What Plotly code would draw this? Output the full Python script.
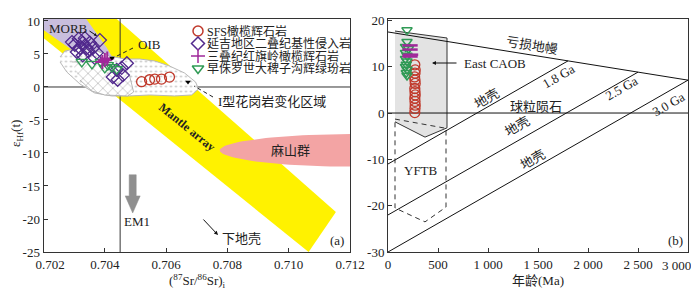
import numpy as np
import plotly.graph_objects as go

# The page places the figure 8 px from the top-left corner; all layout positions below
# are given in window pixels and converted with this offset.
OX, OY = 8, 8
WIN_W, WIN_H = 699, 301
W, H = WIN_W - OX, WIN_H - OY
SERIF = "Liberation Serif, Noto Sans CJK SC, serif"
INK = "#222222"

# ---------------- Panel (a): (87Sr/86Sr)i vs eHf(t) ----------------
sfs_sr = [0.70520, 0.70546, 0.70563, 0.70585, 0.70611]
sfs_eps = [0.8, 1.1, 1.2, 1.2, 1.5]

yanji_sr = [0.70293, 0.70315, 0.70302, 0.70328, 0.70335, 0.70351, 0.70341, 0.70361,
            0.70319, 0.70309, 0.70374, 0.70384, 0.70367, 0.70328, 0.70345, 0.70472,
            0.70455, 0.70439, 0.70459, 0.70442, 0.70426]
yanji_eps = [6.8, 7.3, 6.4, 6.7, 7.4, 6.7, 5.9, 5.9, 5.9, 5.3, 5.2, 7.1, 4.4, 4.8, 5.5,
             3.6, 2.9, 2.6, 1.8, 1.1, 1.5]

hql_sr = [0.70392, 0.70400, 0.70408]
hql_eps = [3.8, 4.1, 4.3]

dbzg_sr = [0.70325, 0.70358, 0.70387, 0.70410, 0.70423, 0.70439, 0.70400]
dbzg_eps = [3.8, 3.5, 3.8, 3.3, 3.0, 2.7, 2.9]

a_xticks = [0.702, 0.704, 0.706, 0.708, 0.710, 0.712]
a_xticktext = ["\u2007\u20070.702", "0.704", "0.706", "0.708", "0.710", "0.712"]
a_yticks = [10, 5, 0, -5, -10, -15, -20, -25]
a_yticktext = ["10", "5", "0", "-5", "-10", "-15", "-20", "-25"]

bulk_earth_sr = 0.7045

# region outlines (data units)
mantle_x = [0.70200, 0.70200, 0.70422, 0.71154, 0.71065]
mantle_y = [7.42, 11.0, 11.0, -18.94, -25.0]
morb_x = [0.70200, 0.70335, 0.70377, 0.70407, 0.70426, 0.70403, 0.70358, 0.70293, 0.70200]
morb_y = [10.6, 10.6, 7.88, 5.91, 4.39, 3.64, 3.79, 5.61, 8.64]
blob_x = [0.70254, 0.70270, 0.70319, 0.70374, 0.70416, 0.70465, 0.70514, 0.70563, 0.70611,
          0.70660, 0.70696, 0.70706, 0.70683, 0.70628, 0.70546, 0.70481, 0.70423, 0.70367,
          0.70319, 0.70276, 0.70254]
blob_y = [4.55, 5.45, 5.91, 5.45, 4.70, 4.24, 4.24, 3.94, 3.18, 2.12, 0.76, -0.30, -1.21,
          -1.36, -1.21, -1.36, -1.36, -0.91, 0.45, 2.27, 3.79]
hatch_x = [0.70293, 0.70384, 0.70442, 0.70481, 0.70494, 0.70475, 0.70400, 0.70358, 0.70319]
hatch_y = [3.79, 3.79, 3.18, 1.67, -0.76, -1.36, -1.21, -0.61, 1.06]
mashan_center = (0.71230, -9.6)
mashan_axes = (0.00455, 2.5)

# ---------------- Panel (b): age vs eHf(t) ----------------
sfs_age = [268, 272, 270, 266, 270, 272, 268, 270, 272, 268, 270, 272, 270, 268]
sfs_ehf = [10.4, 9.3, 8.6, 7.8, 7.1, 6.4, 5.3, 4.6, 3.9, 3.2, 2.5, 1.7, 1.0, 0.1]
dbzg_age = [190, 190, 175, 205, 175, 190, 175, 190, 183, 175, 190, 183, 190]
dbzg_ehf = [17.9, 15.4, 14.3, 13.9, 13.0, 12.4, 11.7, 11.2, 10.5, 10.0, 9.4, 8.7, 8.1]
hql_age = [220, 220, 225, 220]
hql_ehf = [14.6, 13.7, 12.6, 12.2]

dm_age = [0, 3000]
dm_ehf = [17.5, 7.1]
chur_age = [0, 3000]
chur_ehf = [0, 0]
crust_ages = {"1.8": ([0, 1800], [-11.0, 11.26]),
              "2.5": ([0, 2500], [-22.0, 8.83]),
              "3.0": ([0, 3000], [-30.0, 7.1])}
caob_age = [70, 590, 590, 370, 70]
caob_ehf = [17.7, 16.2, -3.2, -5.2, -1.9]
yftb_age = [70, 580, 580, 370, 70, 70]
yftb_ehf = [-1.3, -3.3, -20.3, -23.5, -20.5, -1.3]

b_xticks = [0, 500, 1000, 1500, 2000, 2500, 3000]
b_xticktext = ["0", "500", "1 000", "1 500", "2 000", "2 500", ""]
b_last_label = "3 000"
b_yticks = [20, 10, 0, -10, -20, -30]
b_yticktext = ["20", "10", "0", "-10", "-20", "-30"]

C_RED = "#c0392b"
C_PUR = "#50288c"
C_MAG = "#a0289a"
C_GRN = "#2f9a55"

fig = go.Figure()


def poly(x, y, fill, line, lw=1, xa="x", ya="y", pattern=None, dash=None):
    fig.add_trace(go.Scatter(x=x, y=y, mode="lines", fill="toself", fillcolor=fill,
                             line=dict(color=line, width=lw, dash=dash),
                             fillpattern=pattern, hoverinfo="skip", showlegend=False,
                             xaxis=xa, yaxis=ya))


# ---- panel a regions
poly(mantle_x, mantle_y, "#fff200", "rgba(0,0,0,0)", 0)
poly(morb_x, morb_y, "#c9bedd", "rgba(0,0,0,0)", 0)
t = np.linspace(0, 2 * np.pi, 121)
poly(list(mashan_center[0] + mashan_axes[0] * np.cos(t)),
     list(mashan_center[1] + mashan_axes[1] * np.sin(t)), "#f3a4a4", "rgba(0,0,0,0)", 0)
# reference lines
fig.add_trace(go.Scatter(x=[bulk_earth_sr, bulk_earth_sr], y=[-26, 12], mode="lines",
                         line=dict(color="#333", width=1), hoverinfo="skip", showlegend=False))
fig.add_trace(go.Scatter(x=[0.701, 0.713], y=[0, 0], mode="lines",
                         line=dict(color="#333", width=1), hoverinfo="skip", showlegend=False))
poly(blob_x, blob_y, "white", "#b8b8b8", 1,
     pattern=dict(shape=".", fgcolor="#c4c4c4", bgcolor="white", size=5, solidity=0.15))
poly(hatch_x, hatch_y, "white", "#a8a8a8", 0.8,
     pattern=dict(shape="x", fgcolor="#9a9a9a", bgcolor="white", size=7, solidity=0.14))
# EM1 arrow
c, s, h = 0.70491, 0.000115, 0.000245
poly([c - s, c + s, c + s, c + h, c, c - h, c - s, c - s],
     [-13.3, -13.3, -16.5, -16.5, -19.1, -16.5, -16.5, -13.3], "#8f8f8f", "#8f8f8f", 0.5)

# ---- panel a data
mk = dict(hoverinfo="skip", showlegend=False, mode="markers", cliponaxis=False)
fig.add_trace(go.Scatter(x=yanji_sr, y=yanji_eps, marker=dict(symbol="diamond-open", size=10,
                         color=C_PUR, line=dict(width=1.3)), **mk))
fig.add_trace(go.Scatter(x=dbzg_sr, y=dbzg_eps, marker=dict(symbol="triangle-down-open", size=10,
                         color=C_GRN, line=dict(width=1.3)), **mk))
fig.add_trace(go.Scatter(x=hql_sr, y=hql_eps, marker=dict(symbol="cross-thin-open", size=10,
                         color=C_MAG, line=dict(width=2, color=C_MAG)), **mk))
fig.add_trace(go.Scatter(x=sfs_sr, y=sfs_eps, marker=dict(symbol="circle-open", size=10,
                         color=C_RED, line=dict(width=1.3)), **mk))

# ---- panel b regions and lines
poly(caob_age, caob_ehf, "#e3e3e3", "#333", 1, "x2", "y2")
fig.add_trace(go.Scatter(x=yftb_age, y=yftb_ehf, mode="lines", line=dict(color="#333", width=1, dash="5px,4px"),
                         hoverinfo="skip", showlegend=False, xaxis="x2", yaxis="y2"))
for ax_, ey_ in [(dm_age, dm_ehf), (chur_age, chur_ehf)] + list(crust_ages.values()):
    fig.add_trace(go.Scatter(x=ax_, y=ey_, mode="lines", line=dict(color="#111", width=1),
                             hoverinfo="skip", showlegend=False, xaxis="x2", yaxis="y2"))
fig.add_trace(go.Scatter(x=sfs_age, y=sfs_ehf, xaxis="x2", yaxis="y2",
                         marker=dict(symbol="circle-open", size=10, color=C_RED, line=dict(width=1.3)), **mk))
fig.add_trace(go.Scatter(x=dbzg_age, y=dbzg_ehf, xaxis="x2", yaxis="y2",
                         marker=dict(symbol="triangle-down-open", size=9, color=C_GRN, line=dict(width=1.5)), **mk))
fig.add_trace(go.Scatter(x=hql_age, y=hql_ehf, xaxis="x2", yaxis="y2",
                         marker=dict(symbol="line-ew-open", size=11, color=C_MAG, line=dict(width=2.5, color=C_MAG)), **mk))

# ---- overlay pixel axis (window pixels) for legend and small marks
leg_names = ["SFS橄榄辉石岩", "延吉地区二叠纪基性侵入岩", "三叠纪红旗岭橄榄辉石岩", "早侏罗世大稗子沟辉绿玢岩"]
leg_syms = ["circle-open", "diamond-open", "cross-thin-open", "triangle-down-open"]
leg_cols = [C_RED, C_PUR, C_MAG, C_GRN]
leg_rows = [31, 43.5, 56, 68.5]
for sym, col, yy in zip(leg_syms, leg_cols, leg_rows):
    fig.add_trace(go.Scatter(x=[198], y=[yy], xaxis="x3", yaxis="y3", mode="markers",
                             marker=dict(symbol=sym, size=10, color=col, line=dict(width=1.5, color=col)),
                             hoverinfo="skip", showlegend=False))
fig.add_trace(go.Scatter(x=[112, 188], y=[58, 82], xaxis="x3", yaxis="y3", mode="markers",
                         marker=dict(symbol="triangle-down", size=5, color="black"),
                         hoverinfo="skip", showlegend=False))
for (x0, y0, x1, y1) in [(133, 48, 115, 57), (213, 97, 194, 86)]:
    fig.add_trace(go.Scatter(x=[x0, x1], y=[y0, y1], xaxis="x3", yaxis="y3", mode="lines",
                             line=dict(color="#222", width=1, dash="4px,3px"),
                             hoverinfo="skip", showlegend=False))


def sx(px):
    return (px - OX) / W


def sy(py):
    return 1 - (py - OY) / H


annots = []


def ann(text, px, py, size=13, angle=0, xanchor="center", color=INK):
    annots.append(dict(text=text, x=sx(px), y=sy(py), xref="paper", yref="paper",
                       showarrow=False, textangle=angle, xanchor=xanchor, yanchor="middle",
                       font=dict(family=SERIF, size=size, color=color)))


def arrow(px, py, tx, ty, size=0.8):
    annots.append(dict(text="", x=sx(px), y=sy(py), xref="paper", yref="paper",
                       ax=tx - px, ay=ty - py, showarrow=True, arrowhead=2, arrowsize=size,
                       arrowwidth=1, arrowcolor="#111"))


for name, yy in zip(leg_names, leg_rows):
    ann(name, 205, yy, size=12, xanchor="left")

ann("MORB", 68, 29)
arrow(97, 36, 88, 30, 0.6)
ann("OIB", 149, 44)
ann("I型花岗岩变化区域", 272, 101)
ann("<b>Mantle array</b>", 187, 127, size=12, angle=39)
ann("麻山群", 290, 151)
ann("EM1", 137, 221)
ann("下地壳", 241, 238)
arrow(218, 235, 202, 218, 0.8)
ann("(a)", 337, 241)
ann("(<sup>87</sup>Sr/<sup>86</sup>Sr)<sub>i</sub>", 197, 281)
ann("ε<sub>Hf</sub>(t)", 16, 133, angle=-90)

ann("亏损地幔", 532, 45, angle=9)
ann("1.8 Ga", 558, 76, angle=-30)
ann("2.5 Ga", 621, 88, angle=-30)
ann("3.0 Ga", 668, 104, angle=-30)
ann("地壳", 487, 99, angle=-30)
ann("地壳", 517, 126, angle=-30)
ann("地壳", 533, 160, angle=-30)
ann("球粒陨石", 536, 106)
ann("East CAOB", 495, 63)
arrow(432, 63, 458, 63, 0.8)
ann("YFTB", 421, 170)
ann("(b)", 675, 241)
ann("年龄(Ma)", 538, 280)
ann(b_last_label, 676, 265)

ax_common = dict(showgrid=False, zeroline=False, showline=True, mirror=True, linecolor="#333",
                 linewidth=1, ticks="inside", ticklen=4, tickcolor="#333", automargin=False,
                 tickfont=dict(family=SERIF, size=13, color=INK))
ytop, ybot = sy(19), sy(252)

fig.update_layout(
    template="none",
    width=W, height=H, margin=dict(l=0, r=0, t=0, b=0, pad=0, autoexpand=False),
    paper_bgcolor="white", plot_bgcolor="rgba(0,0,0,0)",
    xaxis=dict(domain=[sx(43.5), sx(350)], range=[0.702, 0.712], tickvals=a_xticks,
               ticktext=a_xticktext, anchor="y", **ax_common),
    yaxis=dict(domain=[ybot, ytop], range=[-25, 10.3], tickvals=a_yticks,
               ticktext=a_yticktext, anchor="x", **ax_common),
    xaxis2=dict(domain=[sx(388), sx(688)], range=[0, 3000], tickvals=b_xticks,
                ticktext=b_xticktext, anchor="y2", **ax_common),
    yaxis2=dict(domain=[ybot, ytop], range=[-30, 20.3], tickvals=b_yticks,
                ticktext=b_yticktext, anchor="x2", **ax_common),
    xaxis3=dict(domain=[0, 1], range=[OX, WIN_W], visible=False, anchor="y3", fixedrange=True,
                automargin=False, showgrid=False, zeroline=False),
    yaxis3=dict(domain=[0, 1], range=[WIN_H, OY], visible=False, anchor="x3", fixedrange=True,
                automargin=False, showgrid=False, zeroline=False),
    annotations=annots,
    showlegend=False,
)

fig.write_html("out.html")
